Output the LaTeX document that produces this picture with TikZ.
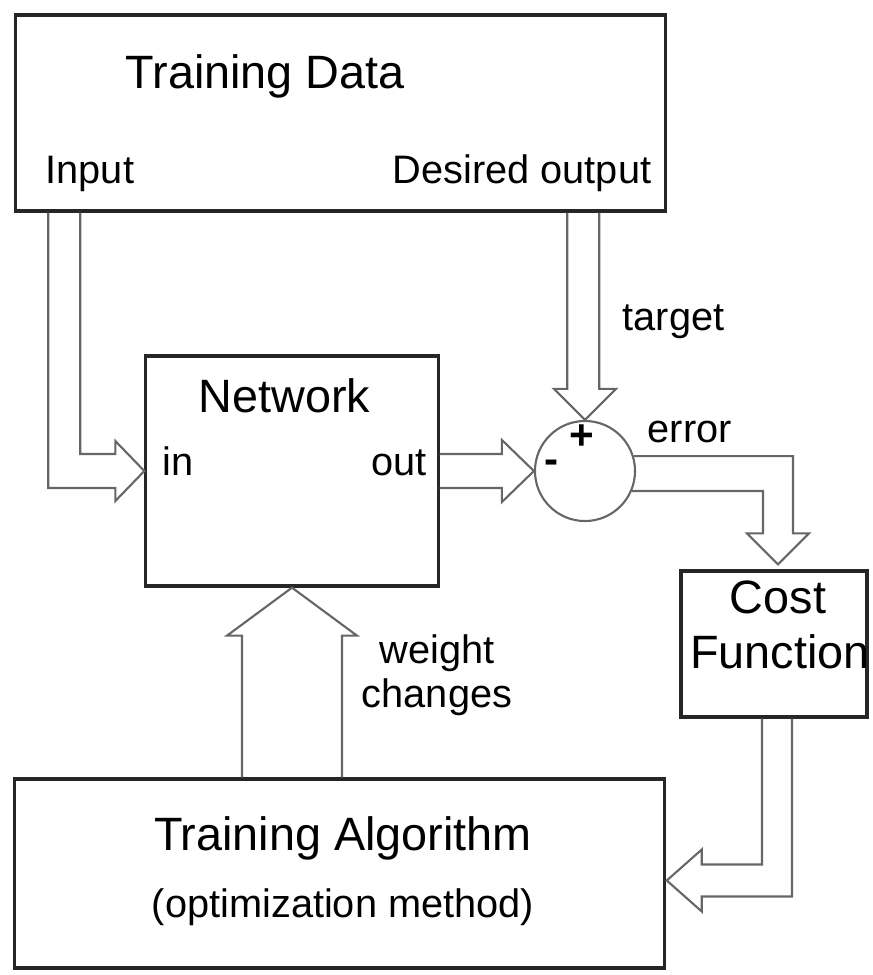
\documentclass[tikz,border=0pt]{standalone}
\usepackage{fontspec}
\setmainfont{Liberation Sans}
\usetikzlibrary{calc}

\begin{document}
\begin{tikzpicture}[x=0.01cm,y=-0.01cm,
  box/.style={draw=black!85,line width=0.9pt,inner sep=0pt},
  hollow/.style={draw=black!60,line width=0.6pt,line join=miter},
  big/.style={font=\fontsize{13.3}{16}\selectfont,inner sep=0pt},
  small/.style={font=\fontsize{11.3}{13}\selectfont,inner sep=0pt}]

  \useasboundingbox (0,0) rectangle (873,975);

  \node[box,minimum width=6.49cm,minimum height=1.96cm] (data) at (340.5,113) {};
  \node[box,minimum width=2.92cm,minimum height=2.30cm] (net) at (292,471) {};
  \node[box,minimum width=1.86cm,minimum height=1.46cm] (cost) at (774,644) {};
  \node[box,minimum width=6.49cm,minimum height=1.89cm] (algo) at (339.5,873.5) {};
  \node[circle,draw=black!60,line width=0.6pt,minimum size=1cm,inner sep=0pt] (sum) at (585,471) {};

  \node[big,anchor=base west] (datatitle) at (125,88) {Training Data};
  \node[small,anchor=base west] (input) at (45,183) {Input};
  \node[small,anchor=base east] (desired) at (652,183) {Desired output};
  \node[big,anchor=base west] (nettitle) at (198,412) {Network};
  \node[small,anchor=base west] (netin) at (162,475) {in};
  \node[small,anchor=base east] (netout) at (427,475) {out};
  \node[big,anchor=base] (costa) at (778,613) {Cost};
  \node[big,anchor=base] (costb) at (780,668) {Function};
  \node[big,anchor=base] (algoa) at (343,850) {Training Algorithm};
  \node[small,anchor=base] (algob) at (343,917) {(optimization method)};
  \node[small,anchor=base west] (target) at (622,330) {target};
  \node[small,anchor=base west] (error) at (647,442) {error};
  \node[small,anchor=base] (weighta) at (437,663) {weight};
  \node[small,anchor=base] (weightb) at (437,707) {changes};
  \node[font=\bfseries\fontsize{12}{14}\selectfont,inner sep=0pt] (plus) at (582,437) {+};
  \node[font=\bfseries\fontsize{12}{14}\selectfont,inner sep=0pt] (minus) at (552,467) {-};

  \coordinate (i1) at ($(net.west)+(-29,17)$);
  \coordinate (etip) at ($(cost.north)+(4,-5)$);
  \coordinate (ctip) at ($(algo.east)+(1,7)$);
  \coordinate (w1) at ($(net.south)+(-50,48)$);
  \coordinate (w2) at ($(net.south)+(50,48)$);

  \draw[hollow] ($(data.south west)+(34,0)$) |- (i1) -- ++(0,13) -- (net.west)
    -- ++(-29,-30) -- ++(0,13) -| ($(data.south west)+(66,0)$);
  \draw[hollow] ($(data.south west)+(553,0)$) |- ($(sum.north)+(-31,-31)$) -- (sum.north)
    -- ++(31,-31) -- ++(-15,0) -| ($(data.south west)+(585,0)$);
  \draw[hollow] ($(net.east)+(0,-17)$) -- ($(sum.west)+(-32,-17)$) -- ++(0,-14) -- (sum.west)
    -- ++(-32,31) -- ++(0,-14) -- ($(net.east)+(0,17)$);
  \draw[hollow] (sum.17) -| ($(etip)+(15,-31)$) -- ++(16,0) -- (etip)
    -- ++(-31,-31) -- ++(16,0) |- (sum.-23);
  \draw[hollow] ($(cost.south)+(-12,0)$) |- ($(ctip)+(35,-16)$) -- ++(0,-15) -- (ctip)
    -- ++(35,31) -- ++(0,-15) -| ($(cost.south)+(18,0)$);
  \draw[hollow] (w1 |- algo.north) -- (w1) -- ++(-15,0) -- (net.south)
    -- ++(65,48) -- ++(-15,0) -- (w2 |- algo.north);

\end{tikzpicture}
\end{document}
